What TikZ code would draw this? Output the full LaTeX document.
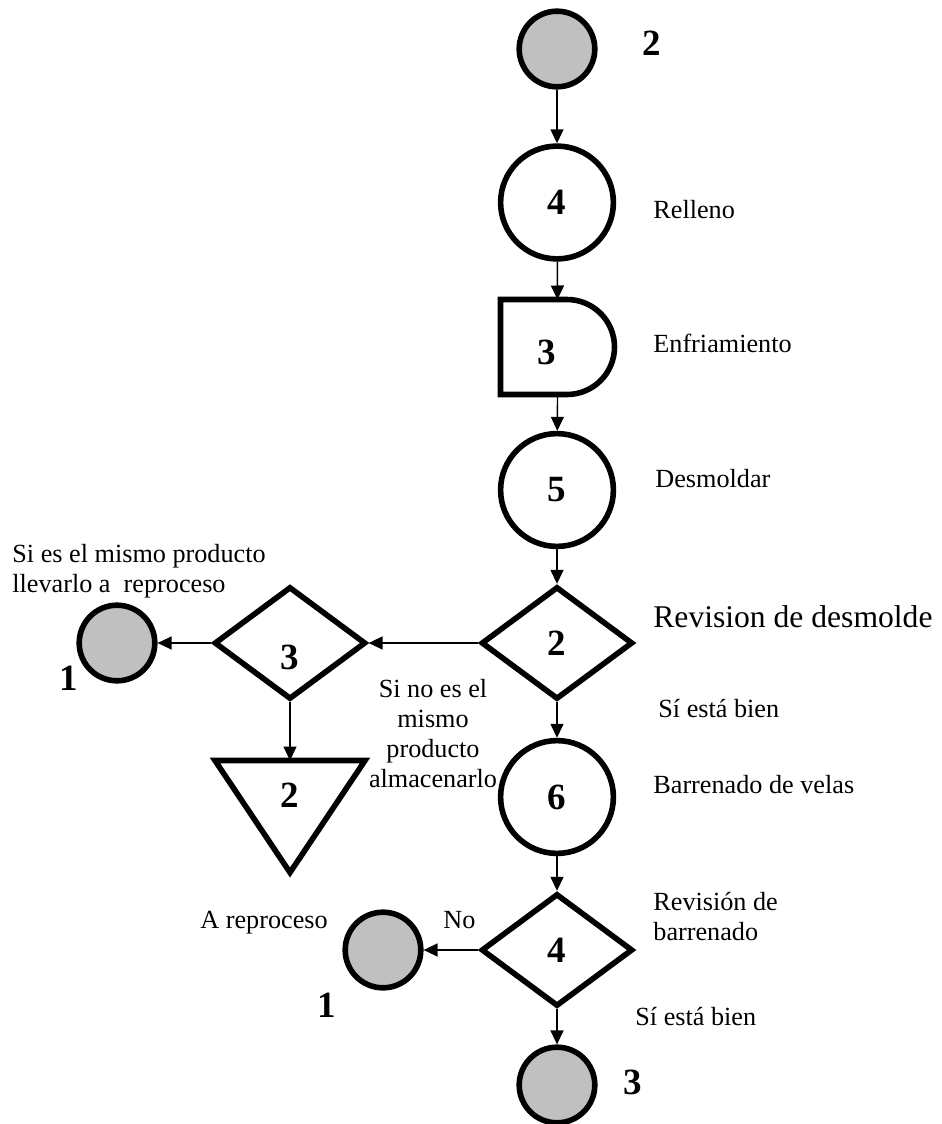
\documentclass[tikz,border=0pt]{standalone}
\usepackage{fontspec}
\setmainfont{Liberation Serif}
\usepackage{xcolor}
\usepackage{tikz}
\usetikzlibrary{shapes.geometric,arrows.meta,calc}

\definecolor{plata}{RGB}{192,192,192}
\newcommand{\numfuente}{\bfseries\fontsize{18.5}{20}\selectfont}
\newcommand{\txtfuente}{\fontsize{13.1}{15}\selectfont}

\begin{document}
\begin{tikzpicture}[x=0.5pt, y=-0.5pt,
    proceso/.style={circle, draw, line width=2.8pt, minimum size=56.4pt, inner sep=0pt, font=\numfuente},
    conector/.style={circle, draw, fill=plata, line width=2.8pt, minimum size=37.8pt, inner sep=0pt},
    revision/.style={diamond, draw, line width=2.8pt, minimum width=75.8pt, minimum height=56.4pt, inner sep=0pt, font=\numfuente},
    caja/.style={rectangle, inner sep=0pt, outer sep=0pt},
    borde/.style={line width=2.8pt},
    flecha/.style={-{Triangle[length=7pt, width=6.5pt]}, line width=0.7pt},
    texto/.style={inner sep=0pt, anchor=base west, font=\txtfuente},
    numero/.style={inner sep=0pt, font=\numfuente}]
            \useasboundingbox (0, 0) rectangle (942, 1124);

            % columna principal
            \node[conector] (c2) at (557, 49) {};
            \node[numero] (n2) at (652, 43) {2};
            \node[proceso] (op4) at (557, 202.5) {4};
            \node[texto] (rel) at (653, 218) {Relleno};

            \node[caja, minimum width=57pt, minimum height=47.5pt] (enf) at (557.5, 347) {};
            \draw[borde] (enf.north west) -- ($(enf.north east)+(-23.75pt, 0)$)
                arc[start angle=90, end angle=-90, radius=23.75pt] -- (enf.south west) -- cycle;
            \node[numero] (n3) at (547, 352) {3};
            \node[texto] (enfr) at (653, 352) {Enfriamiento};

            \node[proceso] (op5) at (557, 490) {5};
            \node[texto] (desm) at (655, 487) {Desmoldar};

            \node[revision] (ins2) at (557, 643) {2};
            \node[texto, font=\fontsize{15.8}{18}\selectfont] (revd) at (653, 627) {Revision de desmolde};
            \node[texto] (bien1) at (658, 717) {Sí está bien};

            \node[proceso] (op6) at (557, 797) {6};
            \node[texto] (barr) at (653, 793) {Barrenado de velas};

            \node[revision] (ins4) at (557, 950) {4};
            \node[texto, align=left] (revb) at (653, 940) {Revisión de\\barrenado};
            \node[texto] (bien2) at (635, 1025) {Sí está bien};

            \node[conector] (c3) at (557, 1085) {};
            \node[numero] (n3b) at (633, 1082) {3};

            % rama de reproceso
            \node[revision] (ins3) at (290, 643) {};
            \node[numero] (n3c) at (290, 657) {3};
            \node[conector] (c1a) at (117, 643) {};
            \node[numero] (n1a) at (69, 678) {1};
            \node[texto, align=left] (mismo) at (12, 592) {Si es el mismo producto\\llevarlo a\ \ reproceso};
            \node[texto, anchor=base, align=center] (nomismo) at (433, 787) {Si no es el\\mismo\\producto\\almacenarlo};

            \node[caja, minimum width=75pt, minimum height=56pt] (alm) at (290, 816.5) {};
            \draw[borde] (alm.north west) -- (alm.north east) -- (alm.south) -- cycle;
            \node[numero] (n2b) at (290, 795) {2};

            \node[conector] (c1b) at (383, 950) {};
            \node[numero] (n1b) at (327, 1005) {1};
            \node[texto] (no) at (443, 928) {No};
            \node[texto] (arep) at (200, 928) {A reproceso};

            % flechas
            \draw[flecha] (c2) -- (op4);
            \draw[flecha] (op4) -- (enf.north);
            \draw[flecha] (enf.south) -- (op5);
            \draw[flecha] (op5) -- (ins2);
            \draw[flecha] (ins2) -- (op6);
            \draw[flecha] (op6) -- (ins4);
            \draw[flecha] (ins4) -- (c3);
            \draw[flecha] (ins2.west) -- (ins3.east);
            \draw[flecha] (ins3.west) -- (c1a.east);
            \draw[flecha] (ins3.south) -- (alm.north);
            \draw[flecha] (ins4.west) -- (c1b.east);
          \end{tikzpicture}
\end{document}
